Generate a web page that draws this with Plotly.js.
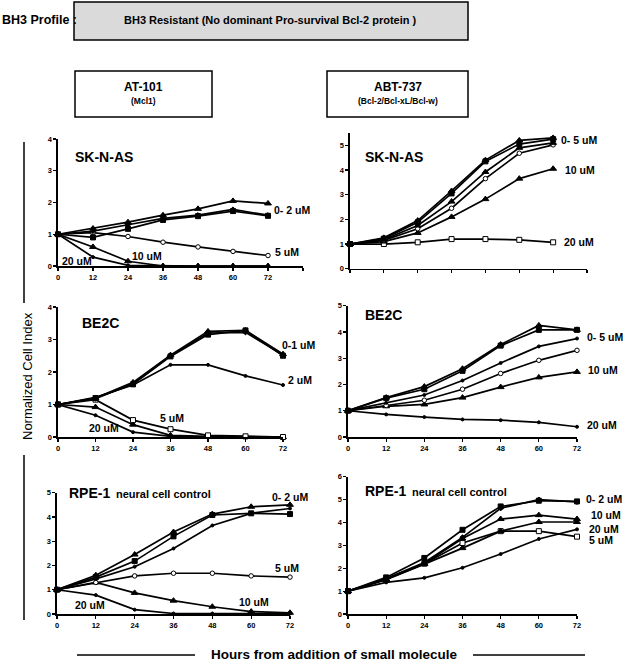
<!DOCTYPE html>
<html>
<head>
<meta charset="utf-8">
<script src="https://cdn.plot.ly/plotly-3.0.1.min.js"></script>
<style>html,body{margin:0;padding:0;background:#fff;}#chart{width:623px;height:661px;}</style>
</head>
<body>
<div id="chart"></div>
<script>
// ---------- data ----------
const hours = [0, 12, 24, 36, 48, 60, 72];
const xTicks = [0, 12, 24, 36, 48, 60, 72];

// AT-101, SK-N-AS
const atSk_0a = [1, 1.18, 1.38, 1.60, 1.80, 2.05, 1.97];
const atSk_0b = [1, 1.10, 1.30, 1.50, 1.60, 1.78, 1.60];
const atSk_0c = [1, 0.90, 1.17, 1.45, 1.57, 1.73, 1.58];
const atSk_5  = [1, 1.05, 0.93, 0.75, 0.60, 0.46, 0.33];
const atSk_10 = [1, 0.60, 0.15, 0, 0, 0, 0];
const atSk_20 = [1, 0.28, 0.02, 0, 0, 0, 0];

// ABT-737, SK-N-AS
const abSk_0a = [1, 1.25, 1.95, 3.15, 4.40, 5.20, 5.30];
const abSk_0b = [1, 1.22, 1.88, 3.05, 4.35, 5.05, 5.25];
const abSk_0c = [1, 1.18, 1.75, 2.72, 3.92, 4.90, 5.10];
const abSk_0d = [1, 1.15, 1.62, 2.45, 3.65, 4.68, 5.02];
const abSk_10 = [1, 1.10, 1.45, 2.10, 2.82, 3.65, 4.05];
const abSk_20 = [1, 1.00, 1.07, 1.20, 1.20, 1.17, 1.07];

// AT-101, BE2C
const atBe_0a = [1, 1.20, 1.68, 2.52, 3.25, 3.28, 2.55];
const atBe_0b = [1, 1.18, 1.65, 2.50, 3.20, 3.22, 2.52];
const atBe_0c = [1, 1.20, 1.62, 2.48, 3.15, 3.28, 2.50];
const atBe_2  = [1, 1.22, 1.60, 2.22, 2.22, 1.88, 1.60];
const atBe_5  = [1, 1.15, 0.52, 0.24, 0.05, 0.02, 0];
const atBe_10 = [1, 0.92, 0.38, 0.05, 0.02, 0, 0];
const atBe_20 = [1, 0.67, 0.15, 0.02, 0, 0, 0];

// ABT-737, BE2C
const abBe_0a = [1, 1.50, 1.92, 2.60, 3.52, 4.25, 4.08];
const abBe_0b = [1, 1.48, 1.82, 2.52, 3.48, 4.08, 4.08];
const abBe_0c = [1, 1.30, 1.60, 2.15, 2.82, 3.45, 3.75];
const abBe_0d = [1, 1.20, 1.40, 1.82, 2.42, 2.92, 3.30];
const abBe_10 = [1, 1.17, 1.24, 1.50, 1.90, 2.27, 2.48];
const abBe_20 = [1, 0.86, 0.76, 0.67, 0.64, 0.56, 0.39];

// AT-101, RPE-1
const atRp_0a = [1, 1.60, 2.45, 3.38, 4.12, 4.42, 4.50];
const atRp_0b = [1, 1.52, 2.18, 3.20, 4.08, 4.15, 4.12];
const atRp_0c = [1, 1.45, 1.95, 2.70, 3.65, 4.15, 4.35];
const atRp_5  = [1, 1.30, 1.57, 1.68, 1.68, 1.57, 1.52];
const atRp_10 = [1, 1.30, 0.87, 0.55, 0.30, 0.10, 0.05];
const atRp_20 = [1, 0.78, 0.18, 0.02, 0.02, 0.02, 0.02];

// ABT-737, RPE-1
const abRp_0a = [1, 1.60, 2.45, 3.68, 4.70, 4.95, 4.92];
const abRp_0b = [1, 1.55, 2.25, 3.35, 4.62, 5.00, 4.90];
const abRp_10 = [1, 1.52, 2.20, 3.30, 4.15, 4.32, 4.15];
const abRp_20 = [1, 1.50, 2.18, 2.88, 3.62, 4.02, 4.02];
const abRp_5  = [1, 1.52, 2.20, 3.10, 3.62, 3.62, 3.38];
const abRp_0e = [1, 1.38, 1.58, 2.02, 2.62, 3.28, 3.70];

// ---------- helpers ----------
const W = 623, H = 661;
const FF = 'Liberation Sans, Arial, sans-serif';
const px = x => x / W;
const py = y => 1 - y / H;

// marker styles: key -> [symbol, size, fill]
const MK = {
  tri:   ['triangle-up', 6, '#000'],
  sq:    ['square', 5, '#000'],
  osq:   ['square', 5, '#fff'],
  ocir:  ['circle', 4.5, '#fff'],
  dot:   ['circle', 3, '#000'],
  dia:   ['diamond', 4, '#000']
};

const traces = [];
function add(ax, ys, key) {
  const n = ax === 1 ? '' : ax;
  const m = MK[key];
  traces.push({
    x: hours, y: ys, xaxis: 'x' + n, yaxis: 'y' + n,
    type: 'scatter', mode: 'lines+markers', cliponaxis: false,
    line: {color: '#000', width: 1.7},
    marker: {symbol: m[0], size: m[1], color: m[2], line: {color: '#000', width: 1}},
    showlegend: false, hoverinfo: 'skip'
  });
}

// panel 1: AT-101 SK-N-AS
add(1, atSk_20, 'dot'); add(1, atSk_10, 'tri'); add(1, atSk_5, 'ocir');
add(1, atSk_0c, 'sq'); add(1, atSk_0b, 'dia'); add(1, atSk_0a, 'tri');
// panel 2: ABT-737 SK-N-AS
add(2, abSk_20, 'osq'); add(2, abSk_10, 'tri'); add(2, abSk_0d, 'ocir');
add(2, abSk_0c, 'tri'); add(2, abSk_0b, 'sq'); add(2, abSk_0a, 'tri');
// panel 3: AT-101 BE2C
add(3, atBe_20, 'dot'); add(3, atBe_10, 'tri'); add(3, atBe_5, 'osq');
add(3, atBe_2, 'dot'); add(3, atBe_0c, 'sq'); add(3, atBe_0b, 'dia'); add(3, atBe_0a, 'tri');
// panel 4: ABT-737 BE2C
add(4, abBe_20, 'dot'); add(4, abBe_10, 'tri'); add(4, abBe_0d, 'ocir');
add(4, abBe_0c, 'dot'); add(4, abBe_0b, 'sq'); add(4, abBe_0a, 'tri');
// panel 5: AT-101 RPE-1
add(5, atRp_20, 'dot'); add(5, atRp_10, 'tri'); add(5, atRp_5, 'ocir');
add(5, atRp_0c, 'dot'); add(5, atRp_0b, 'sq'); add(5, atRp_0a, 'tri');
// panel 6: ABT-737 RPE-1
add(6, abRp_0e, 'dot'); add(6, abRp_5, 'osq'); add(6, abRp_20, 'tri');
add(6, abRp_10, 'tri'); add(6, abRp_0b, 'dia'); add(6, abRp_0a, 'sq');

function xa(x0, x1, max, labels, anchor) {
  return {domain: [px(x0), px(x1)], range: [0, max], anchor: anchor,
    tickvals: max > 72 ? xTicks.concat([84]) : xTicks,
    ticktext: max > 72 ? xTicks.map(String).concat(['']) : xTicks.map(String),
    showticklabels: labels, showline: true, linecolor: '#000', linewidth: 1.6,
    ticks: 'outside', ticklen: 3, tickwidth: 1.2, tickcolor: '#000',
    showgrid: false, zeroline: false, fixedrange: true,
    tickfont: {family: FF, size: 7.5, weight: 'bold', color: '#000'}};
}
function ya(y0, y1, max, anchor) {
  return {domain: [py(y0), py(y1)], range: [0, max], anchor: anchor,
    dtick: 1, tick0: 0,
    showline: true, linecolor: '#000', linewidth: 1.6,
    ticks: 'outside', ticklen: 3, tickwidth: 1.2, tickcolor: '#000',
    showgrid: false, zeroline: false, fixedrange: true,
    tickfont: {family: FF, size: 7.5, weight: 'bold', color: '#000'}};
}

function ann(text, x, y, size, opts) {
  return Object.assign({text: text, xref: 'paper', yref: 'paper', x: px(x), y: py(y),
    xanchor: 'left', yanchor: 'middle', showarrow: false,
    font: {family: FF, size: size, color: '#000', weight: 'bold'}}, opts || {});
}

const annotations = [
  ann('BH3 Profile :', 0, 20, 12.5),
  ann('BH3 Resistant (No dominant Pro-survival Bcl-2 protein )', 270, 20, 11, {xanchor: 'center'}),
  ann('AT-101', 143.5, 87, 12, {xanchor: 'center'}),
  ann('(Mcl1)', 143.5, 101, 8.5, {xanchor: 'center'}),
  ann('ABT-737', 397.5, 87, 12, {xanchor: 'center'}),
  ann('(Bcl-2/Bcl-xL/Bcl-w)', 397.5, 101, 8.5, {xanchor: 'center'}),
  // panel 1
  ann('SK-N-AS', 73, 157, 14),
  ann('0- 2 uM', 272, 210, 10.5),
  ann('5 uM', 273, 252, 10.5),
  ann('10 uM', 130, 256, 10.5),
  ann('20 uM', 60, 261, 10.5),
  // panel 2
  ann('SK-N-AS', 363, 157, 14),
  ann('0- 5 uM', 559, 140, 10.5),
  ann('10 uM', 563, 170, 10.5),
  ann('20 uM', 562, 242, 10.5),
  // panel 3
  ann('BE2C', 80, 323, 14),
  ann('0-1 uM', 280, 345, 10.5),
  ann('2 uM', 286, 380, 10.5),
  ann('5 uM', 158, 418, 10.5),
  ann('20 uM', 87, 428, 10.5),
  // panel 4
  ann('BE2C', 363, 315, 14),
  ann('0- 5 uM', 585, 337, 10.5),
  ann('10 uM', 586, 370, 10.5),
  ann('20 uM', 585, 425, 10.5),
  // panel 5
  ann('RPE-1', 67, 493, 14),
  ann('neural cell control', 114, 494, 11),
  ann('0- 2 uM', 270, 497, 10.5),
  ann('5 uM', 273, 568, 10.5),
  ann('10 uM', 237, 602, 10.5),
  ann('20 uM', 73, 605, 10.5),
  // panel 6
  ann('RPE-1', 363, 491, 14),
  ann('neural cell control', 410, 492, 11),
  ann('0- 2 uM', 584, 499, 10.5),
  ann('10 uM', 589, 515, 10.5),
  ann('20 uM', 587, 529, 10.5),
  ann('5 uM', 587, 540, 10.5),
  // axis titles
  ann('Normalized Cell Index', 27, 376, 13, {xanchor: 'center', textangle: -90,
      font: {family: FF, size: 13, color: '#000'}}),
  ann('Hours from addition of small molecule', 334, 654, 13.5, {xanchor: 'center'})
];

function rect(x0, y0, x1, y1, fill) {
  return {type: 'rect', xref: 'paper', yref: 'paper', x0: px(x0), x1: px(x1), y0: py(y0), y1: py(y1),
    fillcolor: fill, line: {color: '#000', width: 1.5}, layer: 'below'};
}
function seg(x0, y0, x1, y1) {
  return {type: 'line', xref: 'paper', yref: 'paper', x0: px(x0), x1: px(x1), y0: py(y0), y1: py(y1),
    line: {color: '#000', width: 1.5}};
}

const layout = {
  width: W, height: H, margin: {l: 0, r: 0, t: 0, b: 0},
  paper_bgcolor: '#fff', plot_bgcolor: 'rgba(0,0,0,0)', showlegend: false,
  xaxis:  xa(58, 303, 84, true, 'y'),
  yaxis:  ya(266, 139, 4, 'x'),
  xaxis2: xa(350, 587, 84, false, 'y2'),
  yaxis2: ya(268.7, 133, 5.5, 'x2'),
  xaxis3: xa(58, 283, 72, true, 'y3'),
  yaxis3: ya(437, 307, 4, 'x3'),
  xaxis4: xa(348, 577, 72, true, 'y4'),
  yaxis4: ya(437, 305.7, 5, 'x4'),
  xaxis5: xa(57, 290, 72, true, 'y5'),
  yaxis5: ya(614, 492.7, 5, 'x5'),
  xaxis6: xa(348, 577, 72, true, 'y6'),
  yaxis6: ya(614, 476.7, 6, 'x6'),
  annotations: annotations,
  shapes: [
    rect(74, 2, 468, 40, '#dadada'),
    rect(75, 71, 212, 117, '#ffffff'),
    rect(327, 71, 468, 117, '#ffffff'),
    seg(24, 142, 24, 303),
    seg(24, 455, 24, 620),
    seg(77, 655, 195, 655),
    seg(473, 655, 585, 655)
  ]
};

Plotly.newPlot('chart', traces, layout, {staticPlot: true, displayModeBar: false});
</script>
</body>
</html>
